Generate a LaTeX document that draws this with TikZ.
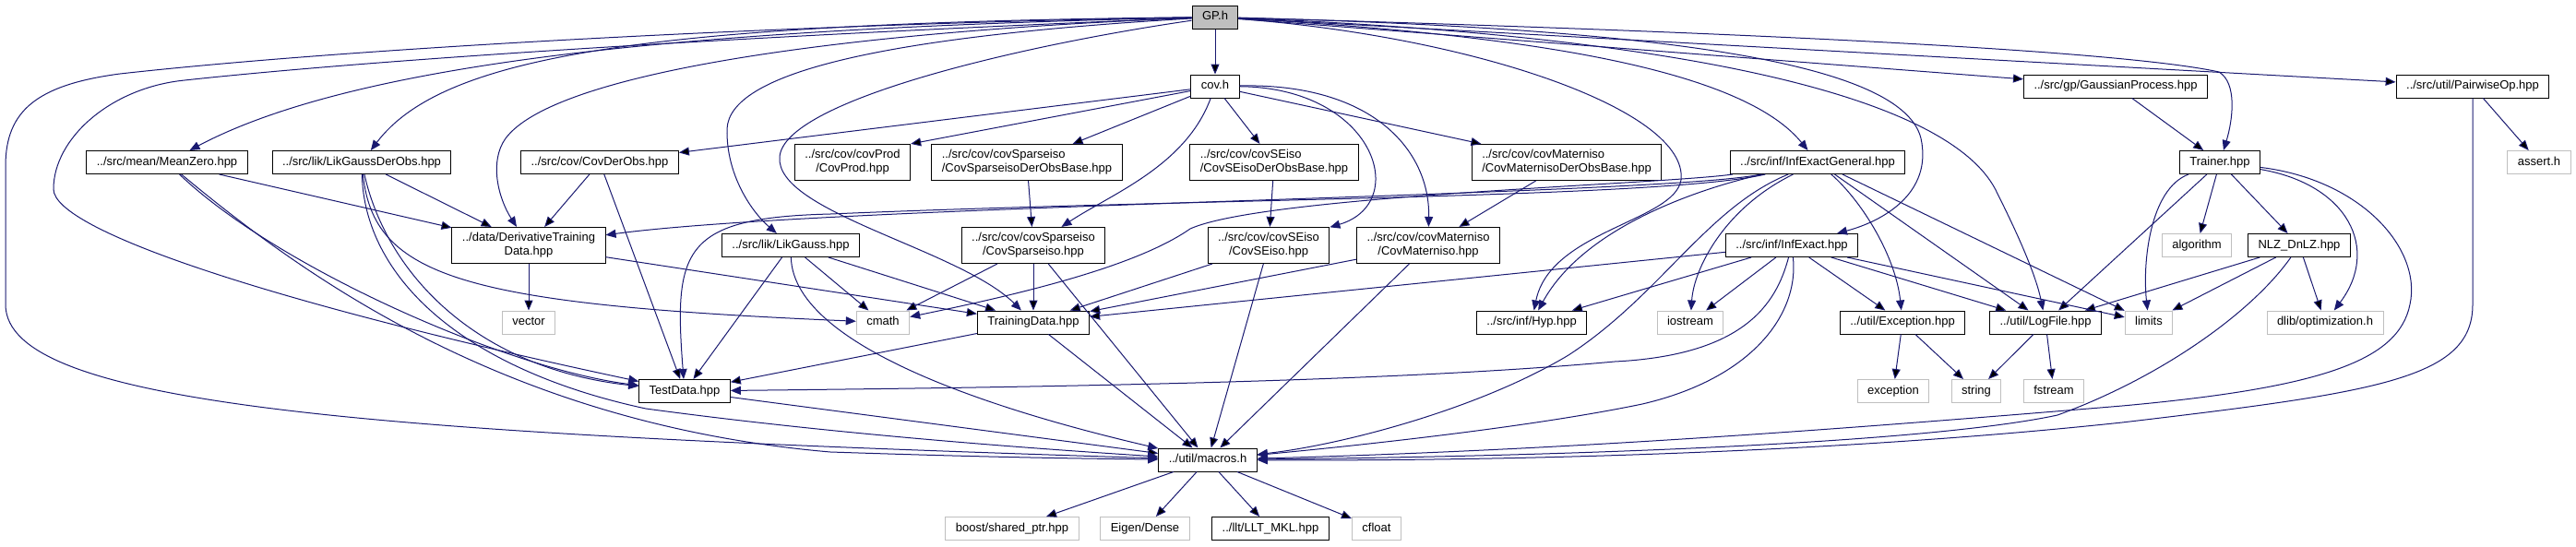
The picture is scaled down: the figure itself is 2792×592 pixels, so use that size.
\documentclass[tikz,border=0pt]{standalone}
\usepackage{fontspec}
\setmainfont{Liberation Sans}
\usepackage{tikz}
\usetikzlibrary{arrows.meta}
\definecolor{edgeblue}{HTML}{191970}
\definecolor{sysgray}{HTML}{BFBFBF}

\begin{document}
\begin{tikzpicture}[x=1pt, y=-1pt,
    box/.style={rectangle, draw=black, fill=white, line width=1pt, inner xsep=11pt, font=\fontsize{13}{15}\selectfont},
    hdr/.style={box, minimum height=25pt, inner ysep=0pt, text height=9.4pt, text depth=2.7pt},
    hdrtwo/.style={box, inner ysep=6pt, align=center},
    hdrleft/.style={box, inner ysep=6pt, align=left},
    sys/.style={hdr, draw=sysgray},
    root/.style={hdr, fill=sysgray},
    inc/.style={draw=edgeblue, line width=1pt, -{Triangle[length=11pt,width=9pt]}}]
\useasboundingbox (0,0) rectangle (2792,592);

\node[root] (GP) at (1317,18.5) {GP.h};
\node[hdr] (cov) at (1317,93.5) {cov.h};
\node[hdr] (gauss) at (2293,93.5) {../src/gp/GaussianProcess.hpp};
\node[hdr] (pairwise) at (2680,93.5) {../src/util/PairwiseOp.hpp};
\node[hdr] (meanzero) at (181,176) {../src/mean/MeanZero.hpp};
\node[hdr] (likderobs) at (392,176) {../src/lik/LikGaussDerObs.hpp};
\node[hdr] (covderobs) at (650,176) {../src/cov/CovDerObs.hpp};
\node[hdrtwo] (covprod) at (924,176) {../src/cov/covProd\\/CovProd.hpp};
\node[hdrleft] (sparsebase) at (1113,176) {../src/cov/covSparseiso\\/CovSparseisoDerObsBase.hpp};
\node[hdrleft] (sebase) at (1381,176) {../src/cov/covSEiso\\/CovSEisoDerObsBase.hpp};
\node[hdrleft] (maternbase) at (1698,176) {../src/cov/covMaterniso\\/CovMaternisoDerObsBase.hpp};
\node[hdr] (infgeneral) at (1970,176) {../src/inf/InfExactGeneral.hpp};
\node[hdr] (trainer) at (2406,176) {Trainer.hpp};
\node[sys] (assert) at (2752,176) {assert.h};
\node[hdrtwo] (derivdata) at (573,266) {../data/DerivativeTraining\\Data.hpp};
\node[hdr] (likgauss) at (857,266) {../src/lik/LikGauss.hpp};
\node[hdrtwo] (sparse) at (1120,266) {../src/cov/covSparseiso\\/CovSparseiso.hpp};
\node[hdrtwo] (seiso) at (1375,266) {../src/cov/covSEiso\\/CovSEiso.hpp};
\node[hdrtwo] (matern) at (1548,266) {../src/cov/covMaterniso\\/CovMaterniso.hpp};
\node[hdr] (infexact) at (1942,266) {../src/inf/InfExact.hpp};
\node[sys] (algorithm) at (2381,266) {algorithm};
\node[hdr] (nlz) at (2492,266) {NLZ\_DnLZ.hpp};
\node[sys] (vector) at (573,349.5) {vector};
\node[sys] (cmath) at (957,349.5) {cmath};
\node[hdr] (trainingdata) at (1120,349.5) {TrainingData.hpp};
\node[hdr] (hyp) at (1660,349.5) {../src/inf/Hyp.hpp};
\node[sys] (iostream) at (1832,349.5) {iostream};
\node[hdr] (exceptionhpp) at (2062,349.5) {../util/Exception.hpp};
\node[hdr] (logfile) at (2217,349.5) {../util/LogFile.hpp};
\node[sys] (limits) at (2329,349.5) {limits};
\node[sys] (dlib) at (2520,349.5) {dlib/optimization.h};
\node[hdr] (testdata) at (742,424) {TestData.hpp};
\node[sys] (exception) at (2052,424) {exception};
\node[sys] (string) at (2142,424) {string};
\node[sys] (fstream) at (2226,424) {fstream};
\node[hdr] (macros) at (1309,498.5) {../util/macros.h};
\node[sys] (boost) at (1097,573) {boost/shared\_ptr.hpp};
\node[sys] (eigen) at (1241,573) {Eigen/Dense};
\node[hdr] (llt) at (1377,573) {../llt/LLT\_MKL.hpp};
\node[sys] (cfloat) at (1492,573) {cfloat};

\path[inc]
    (GP) edge (cov)
    (GP) edge (gauss)
    (GP) edge (pairwise)
    (cov) edge (covderobs)
    (cov) edge (covprod.north east)
    (cov) edge (sparsebase)
    (cov) edge (sebase)
    (cov) edge (maternbase)
    (gauss) edge (trainer)
    (pairwise) edge (assert)
    (meanzero) edge (derivdata)
    (likderobs) edge (derivdata)
    (covderobs) edge (derivdata)
    (covderobs) edge (testdata)
    (sparsebase) edge (sparse)
    (sebase) edge (seiso)
    (maternbase) edge (matern)
    (infgeneral) edge (logfile)
    (infgeneral) edge (limits)
    (trainer) edge (algorithm)
    (trainer) edge (nlz)
    (trainer) edge (logfile)
    (nlz) edge (limits)
    (nlz) edge (logfile)
    (nlz) edge (dlib)
    (derivdata) edge (vector)
    (derivdata) edge (trainingdata)
    (likgauss) edge (cmath)
    (likgauss) edge (trainingdata)
    (likgauss) edge (testdata)
    (sparse) edge (cmath)
    (sparse) edge (trainingdata)
    (sparse) edge (macros)
    (seiso) edge (trainingdata)
    (seiso) edge (macros)
    (matern) edge (trainingdata)
    (matern) edge (macros)
    (infexact) edge (trainingdata)
    (infexact) edge (hyp)
    (infexact) edge (iostream)
    (infexact) edge (exceptionhpp)
    (infexact) edge (logfile)
    (infexact) edge (limits)
    (trainingdata) edge (testdata)
    (trainingdata) edge (macros)
    (testdata) edge (macros)
    (exceptionhpp) edge (exception)
    (exceptionhpp) edge (string)
    (logfile) edge (string)
    (logfile) edge (fstream)
    (macros) edge (boost)
    (macros) edge (eigen)
    (macros) edge (llt)
    (macros) edge (cfloat);

\draw[inc] (GP) .. controls (900,25) and (400,50) .. (130,80) .. controls (40,92) and (6,120) .. (6,180) -- (6,330) .. controls (6,440) and (400,470) .. (macros);
\draw[inc] (GP) .. controls (900,35) and (450,60) .. (200,87) .. controls (120,95) and (58,150) .. (58,205) .. controls (58,250) and (300,330) .. (testdata);
\draw[inc] (GP) .. controls (800,30) and (400,60) .. (meanzero);
\draw[inc] (GP) .. controls (700,25) and (480,60) .. (likderobs);
\draw[inc] (GP) .. controls (900,35) and (600,80) .. (548,150) .. controls (530,175) and (540,215) .. (derivdata);
\draw[inc] (GP) .. controls (950,40) and (790,80) .. (788,140) .. controls (787,190) and (815,230) .. (likgauss);
\draw[inc] (GP) .. controls (1100,50) and (850,110) .. (845,170) .. controls (840,230) and (1040,270) .. (trainingdata);
\draw[inc] (GP) .. controls (1600,40) and (1830,120) .. (1822,195) .. controls (1815,240) and (1680,250) .. (hyp);
\draw[inc] (GP) .. controls (1600,35) and (1880,65) .. (infgeneral);
\draw[inc] (GP) .. controls (1750,30) and (2060,60) .. (2082,150) .. controls (2095,210) and (2040,240) .. (infexact);
\draw[inc] (GP) .. controls (1850,40) and (2120,110) .. (2165,210) .. controls (2190,260) and (2207,300) .. (logfile);
\draw[inc] (GP) .. controls (1900,35) and (2300,55) .. (2405,78) .. controls (2425,90) and (2420,130) .. (trainer);

\draw[inc] (cov) .. controls (1285,180) and (1205,210) .. (sparse);
\draw[inc] (cov) .. controls (1490,95) and (1530,220) .. (seiso);
\draw[inc] (cov) .. controls (1490,90) and (1550,165) .. (matern);

\draw[inc] (pairwise) -- (2680,330) .. controls (2680,410) and (2580,425) .. (2300,458) .. controls (2000,490) and (1650,500) .. (macros);

\draw[inc] (meanzero) .. controls (300,290) and (550,400) .. (testdata);
\draw[inc] (meanzero) .. controls (330,300) and (550,460) .. (900,490) .. controls (1050,495) and (1150,497) .. (macros);
\draw[inc] (likderobs) .. controls (405,300) and (500,330) .. (cmath);
\draw[inc] (likderobs) .. controls (420,300) and (520,400) .. (testdata);
\draw[inc] (likderobs) .. controls (395,300) and (500,400) .. (700,443) .. controls (900,470) and (1100,485) .. (macros);
\draw[inc] (likgauss) .. controls (860,380) and (1100,450) .. (macros);

\draw[inc] (infgeneral) .. controls (1800,212) and (900,222) .. (derivdata);
\draw[inc] (infgeneral) .. controls (1800,215) and (1300,215) .. (900,232) .. controls (740,236) and (730,270) .. (testdata);
\draw[inc] (infgeneral) .. controls (1800,200) and (1370,212) .. (1290,248) .. controls (1230,290) and (1100,320) .. (cmath);
\draw[inc] (infgeneral) .. controls (1860,200) and (1720,240) .. (hyp);
\draw[inc] (infgeneral) .. controls (1870,225) and (1836,290) .. (iostream);
\draw[inc] (infgeneral) .. controls (2020,220) and (2055,280) .. (exceptionhpp);
\draw[inc] (infgeneral) .. controls (1850,225) and (1800,320) .. (1700,385) .. controls (1600,445) and (1450,483) .. (macros);

\draw[inc] (infexact) .. controls (1925,330) and (1890,385) .. (1750,392) .. controls (1500,415) and (1100,420) .. (testdata);
\draw[inc] (infexact) .. controls (1950,340) and (1900,410) .. (1780,438) .. controls (1650,465) and (1450,485) .. (macros);

\draw[inc] (trainer) .. controls (2330,205) and (2322,285) .. (limits);
\draw[inc] (trainer) .. controls (2545,200) and (2580,270) .. (dlib);
\draw[inc] (trainer) .. controls (2560,195) and (2625,270) .. (2612,330) .. controls (2600,390) and (2520,420) .. (2300,440) .. controls (2000,465) and (1700,488) .. (macros);
\draw[inc] (nlz) .. controls (2440,340) and (2340,410) .. (2230,450) .. controls (2100,478) and (1750,494) .. (macros);
\end{tikzpicture}
\end{document}
